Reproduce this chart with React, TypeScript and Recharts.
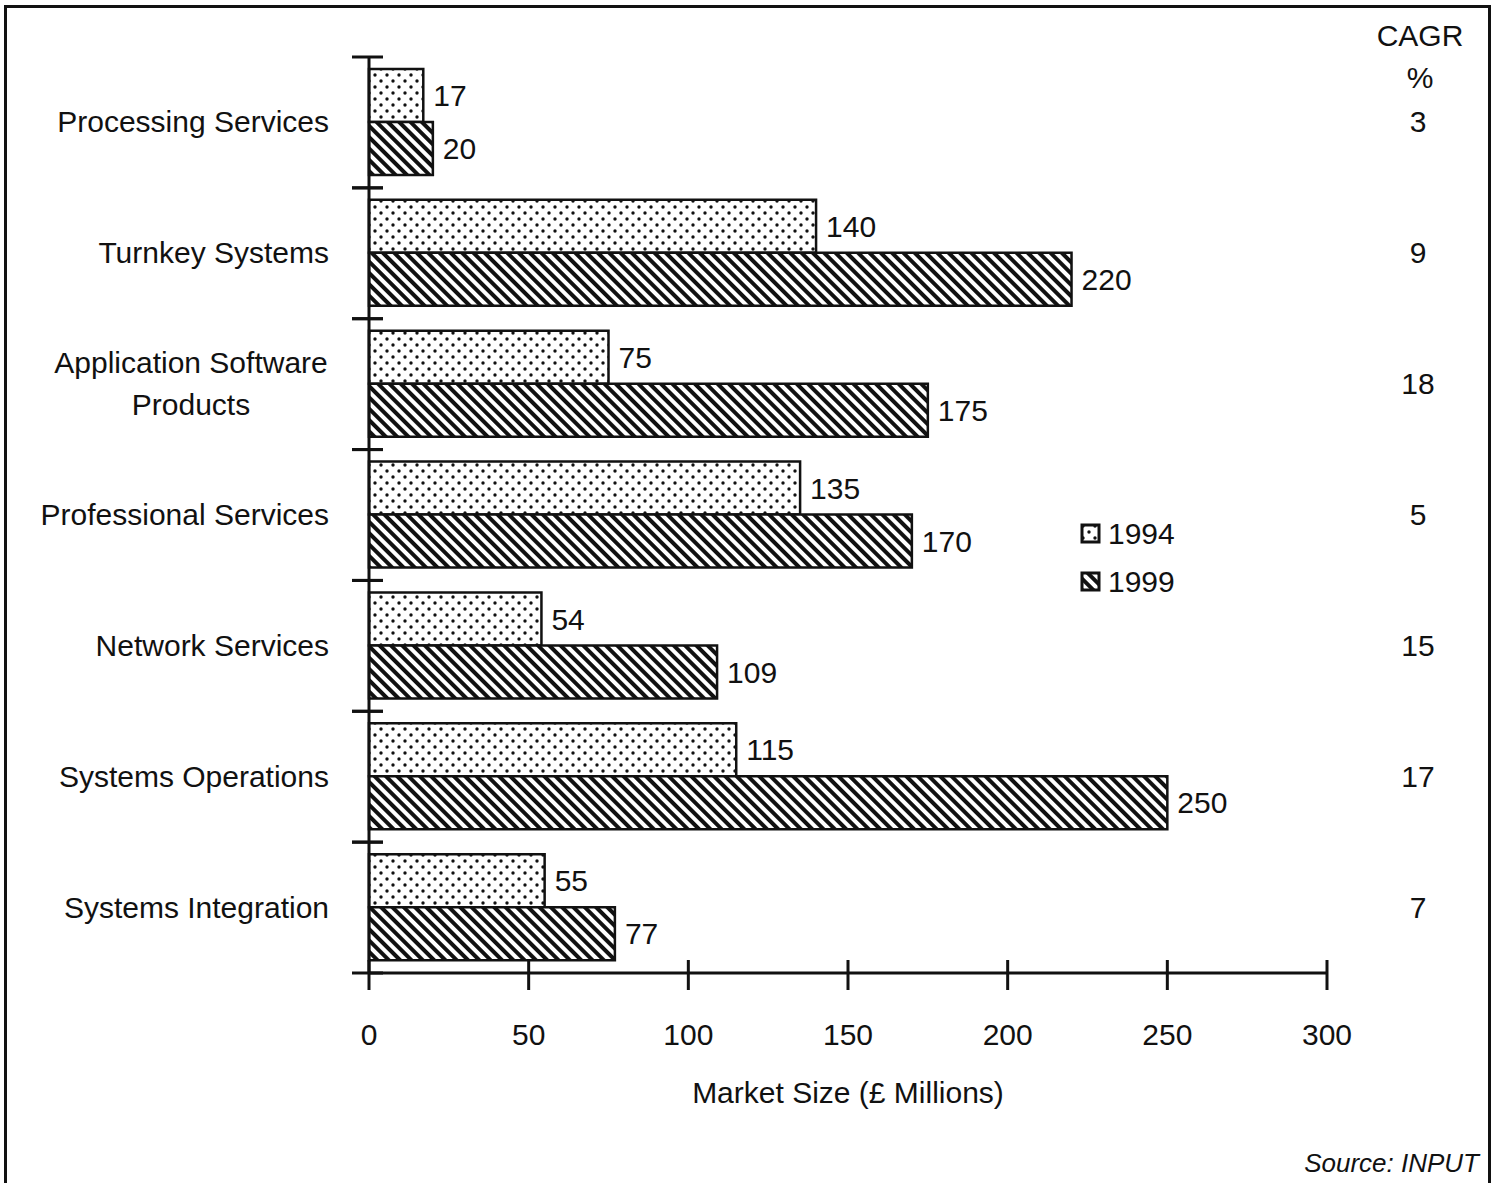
import React from 'react';
import { BarChart, Bar, XAxis, YAxis, LabelList } from 'recharts';

const categories = [
  'Processing Services',
  'Turnkey Systems',
  'Application Software Products',
  'Professional Services',
  'Network Services',
  'Systems Operations',
  'Systems Integration',
];
const values1994 = [17, 140, 75, 135, 54, 115, 55];
const values1999 = [20, 220, 175, 170, 109, 250, 77];
const cagr = [3, 9, 18, 5, 15, 17, 7];
const xTicks = [0, 50, 100, 150, 200, 250, 300];

const data = categories.map((name, i) => ({
  name,
  y1994: values1994[i],
  y1999: values1999[i],
  cagr: cagr[i],
}));

const FONT = '"Liberation Sans", Arial, Helvetica, sans-serif';
const INK = '#111';
const FS = 30;

const CategoryTick = (props: any) => {
  const { x, y, payload, index } = props;
  const off = payload && payload.offset ? payload.offset : 65;
  const label: string = payload.value;
  const lines = label === 'Application Software Products' ? ['Application Software', 'Products'] : [label];
  return (
    <g>
      <line x1={x - 17} x2={x + 14} y1={y - off} y2={y - off} stroke={INK} strokeWidth={3} />
      <line x1={x - 17} x2={x + 14} y1={y + off} y2={y + off} stroke={INK} strokeWidth={3} />
      {lines.length === 1 ? (
        <text x={x - 40} y={y + 10} textAnchor="end" fontSize={FS} fill={INK} fontFamily={FONT}>
          {label}
        </text>
      ) : (
        lines.map((l, k) => (
          <text key={k} x={191} y={y - 11 + k * 42} textAnchor="middle" fontSize={FS} fill={INK} fontFamily={FONT}>
            {l}
          </text>
        ))
      )}
      <text x={x + 1049} y={y + 10} textAnchor="middle" fontSize={FS} fill={INK} fontFamily={FONT}>
        {cagr[index]}
      </text>
    </g>
  );
};

const ValueTick = (props: any) => {
  const { x, y, payload } = props;
  return (
    <g>
      <line x1={x} x2={x} y1={y - 13} y2={y + 17} stroke={INK} strokeWidth={3} />
      <text x={x} y={y + 72} textAnchor="middle" fontSize={FS} fill={INK} fontFamily={FONT}>
        {payload.value}
      </text>
    </g>
  );
};

const legendItems = [
  { label: '1994', fill: 'url(#dots)' },
  { label: '1999', fill: 'url(#hatch)' },
];

export default function App() {
  return (
    <div style={{ position: 'absolute', left: 0, top: 0, width: 1498, height: 1183, background: '#fff', overflow: 'hidden' }}>
      <div
        style={{
          position: 'absolute',
          left: 4,
          top: 5,
          width: 1481,
          height: 1200,
          borderTop: '3px solid #111',
          borderLeft: '3px solid #111',
          borderRight: '3px solid #111',
        }}
      />
      <BarChart
        width={1498}
        height={1183}
        data={data}
        layout="vertical"
        margin={{ top: 57, right: 171, bottom: 120, left: 29 }}
        barCategoryGap={12}
        barGap={0}
      >
        <defs>
          <pattern id="dots" patternUnits="userSpaceOnUse" width={12} height={12}>
            <rect width={12} height={12} fill="#fff" />
            <circle cx={3} cy={3} r={1.7} fill={INK} />
            <circle cx={9} cy={9} r={1.7} fill={INK} />
          </pattern>
          <pattern id="hatch" patternUnits="userSpaceOnUse" width={8} height={8} patternTransform="rotate(-45)">
            <rect width={8} height={8} fill="#fff" />
            <line x1={4} y1={0} x2={4} y2={8} stroke={INK} strokeWidth={4} />
          </pattern>
        </defs>
        <XAxis
          type="number"
          domain={[0, 300]}
          ticks={xTicks}
          interval={0}
          tick={<ValueTick />}
          tickLine={false}
          tickSize={0}
          tickMargin={0}
          axisLine={{ stroke: INK, strokeWidth: 3 }}
          height={90}
        />
        <YAxis
          type="category"
          dataKey="name"
          width={340}
          interval={0}
          tick={<CategoryTick />}
          tickLine={false}
          tickSize={0}
          tickMargin={0}
          axisLine={{ stroke: INK, strokeWidth: 3 }}
        />
        <Bar dataKey="y1994" name="1994" fill="url(#dots)" stroke={INK} strokeWidth={2.5} isAnimationActive={false}>
          <LabelList dataKey="y1994" position="right" offset={10} fontSize={FS} fill={INK} fontFamily={FONT} />
        </Bar>
        <Bar dataKey="y1999" name="1999" fill="url(#hatch)" stroke={INK} strokeWidth={2.5} isAnimationActive={false}>
          <LabelList dataKey="y1999" position="right" offset={10} fontSize={FS} fill={INK} fontFamily={FONT} />
        </Bar>
      </BarChart>
      <div style={{ position: 'absolute', left: 1080, top: 510, fontFamily: FONT, fontSize: FS, color: INK, lineHeight: '48px' }}>
        {legendItems.map((item) => (
          <div key={item.label} style={{ display: 'flex', alignItems: 'center' }}>
            <svg width={22} height={22} style={{ marginRight: 6 }}>
              <rect x={2} y={2} width={17} height={17} fill={item.fill} stroke={INK} strokeWidth={3} />
            </svg>
            <span>{item.label}</span>
          </div>
        ))}
      </div>
      <div style={{ position: 'absolute', left: 1370, top: 15, width: 100, textAlign: 'center', fontFamily: FONT, fontSize: FS, color: INK, lineHeight: '42px' }}>
        <div>CAGR</div>
        <div>%</div>
      </div>
      <div style={{ position: 'absolute', left: 369, width: 958, top: 1076, textAlign: 'center', fontFamily: FONT, fontSize: FS, color: INK }}>
        Market Size (£ Millions)
      </div>
      <div style={{ position: 'absolute', right: 19, top: 1148, fontFamily: FONT, fontSize: 26, fontStyle: 'italic', color: INK }}>
        Source: INPUT
      </div>
    </div>
  );
}
